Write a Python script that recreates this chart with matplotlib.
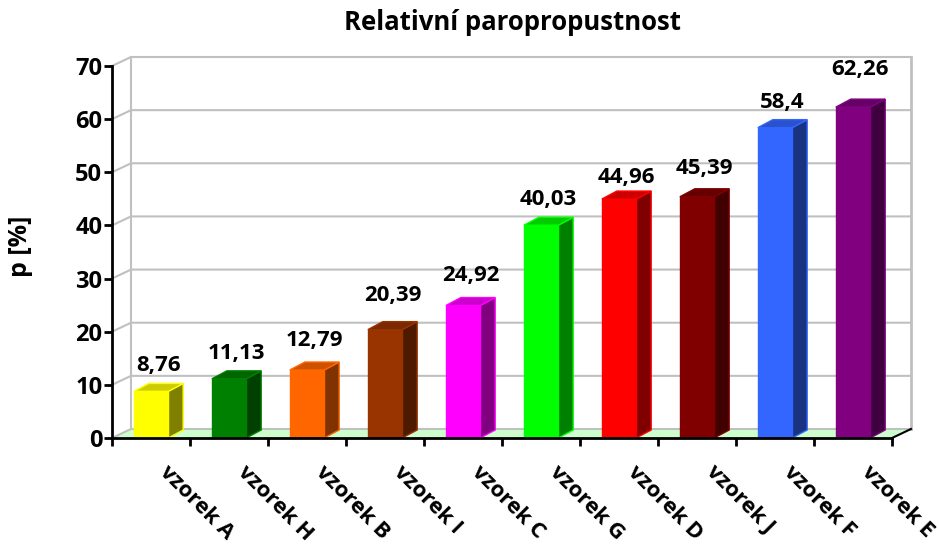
import matplotlib.pyplot as plt
from matplotlib.patches import Polygon
from matplotlib.transforms import offset_copy

plt.rcParams['font.family'] = ['Open Sans', 'DejaVu Sans']
plt.rcParams['font.weight'] = 'bold'

# vzorky seřazené podle hodnoty
vzorky = ["vzorek A", "vzorek H", "vzorek B", "vzorek I", "vzorek C",
          "vzorek G", "vzorek D", "vzorek J", "vzorek F", "vzorek E"]
hodnoty = [8.76, 11.13, 12.79, 20.39, 24.92, 40.03, 44.96, 45.39, 58.4, 62.26]
popisky = ["8,76", "11,13", "12,79", "20,39", "24,92",
           "40,03", "44,96", "45,39", "58,4", "62,26"]

barvy_predni = ["#FFFF00", "#008000", "#FF6600", "#993300", "#FF00FF",
                "#00FF00", "#FF0000", "#800000", "#3366FF", "#800080"]
barvy_bok = ["#808000", "#004000", "#803300", "#4D1A00", "#800080",
             "#008000", "#800000", "#400000", "#1A3380", "#400040"]
barvy_vrch = ["#CCCC00", "#006600", "#CC5200", "#7A2900", "#CC00CC",
              "#00CC00", "#CC0000", "#660000", "#2952CC", "#660066"]

# odstup účaří popisku od horní hrany sloupce (px)
odstup_popisku = [20, 20, 24, 29, 25, 20, 16, 23, 20, 32]

W, H = 939, 544
fig = plt.figure(figsize=(W / 100, H / 100), dpi=100)

# pixelové měřítko os: 78 px na kategorii, 5.314 px na jednotku
px_x = 78.0
px_y = 372.0 / 70
xmax, ymax = 10.35, 72.0
left, bottom = 112, 438
ax = fig.add_axes([left / W, (H - bottom) / H, xmax * px_x / W, ymax * px_y / H])
ax.set_xlim(0, xmax)
ax.set_ylim(0, ymax)

# hloubka stěn a sloupců v datových jednotkách
dx, dy = 19 / px_x, 9 / px_y
sdx, sdy = 15 / px_x, 8 / px_y
sirka = 0.44
grid_c = "#C0C0C0"

# podlaha
ax.add_patch(Polygon([(0, 0), (10, 0), (10 + dx, dy), (dx, dy)], closed=True,
                     facecolor="#CCFFCC", edgecolor="none", zorder=1))
ax.plot([10, 10 + dx], [0, dy], color="black", lw=1.5, zorder=2, clip_on=False)

# mřížka na zadní a boční stěně
for v in range(0, 71, 10):
    ax.plot([0, dx, 10 + dx], [v, v + dy, v + dy], color=grid_c, lw=1.5, zorder=1, clip_on=False)
ax.plot([dx, dx], [dy, 70 + dy], color=grid_c, lw=1.5, zorder=1)
ax.plot([10 + dx, 10 + dx], [dy, 70 + dy], color=grid_c, lw=2, zorder=1)

# 3D sloupce
for i, (v, fc, bc, tc, txt, od) in enumerate(zip(hodnoty, barvy_predni, barvy_bok, barvy_vrch,
                                                  popisky, odstup_popisku)):
    x0 = i + 0.28
    x1 = x0 + sirka
    ax.add_patch(Polygon([(x1, 0), (x1 + sdx, sdy), (x1 + sdx, v + sdy), (x1, v)], closed=True,
                         facecolor=bc, edgecolor=fc, lw=1, zorder=3))
    ax.add_patch(Polygon([(x0, v), (x1, v), (x1 + sdx, v + sdy), (x0 + sdx, v + sdy)], closed=True,
                         facecolor=tc, edgecolor=fc, lw=1, zorder=3))
    ax.add_patch(Polygon([(x0, 0), (x1, 0), (x1, v), (x0, v)], closed=True,
                         facecolor=fc, edgecolor=fc, lw=1, zorder=4))
    ax.annotate(txt, ((x0 + x1 + sdx) / 2, v), xytext=(0, od * 0.72), textcoords="offset points",
                ha="center", va="baseline", fontsize=16, fontweight="bold", zorder=5)

# osy
for s in ("top", "right"):
    ax.spines[s].set_visible(False)
ax.spines["left"].set_bounds(0, 70)
ax.spines["bottom"].set_bounds(0, 10)
ax.spines["left"].set_linewidth(2)
ax.spines["bottom"].set_linewidth(2)
ax.spines["left"].set_zorder(6)
ax.spines["bottom"].set_zorder(6)
ax.set_yticks(range(0, 71, 10))
ax.tick_params(axis="y", direction="out", length=6, width=2, labelsize=17, pad=1)
ax.set_xticks(range(0, 11))
ax.set_xticklabels([])
ax.tick_params(axis="x", which="major", direction="out", length=6, width=2)
ax.set_xticks([i + 0.5 for i in range(10)], minor=True)
ax.set_xticklabels(vzorky, minor=True, rotation=-45, ha="left", rotation_mode="anchor",
                   fontsize=16, fontweight="bold")
ax.tick_params(axis="x", which="minor", length=0, pad=17)
for lab in ax.get_xticklabels(minor=True):
    lab.set_transform(offset_copy(lab.get_transform(), fig=fig, x=14, y=0, units="points"))
for lab in ax.get_yticklabels():
    lab.set_fontweight("bold")
ax.set_ylabel("p [%]", fontsize=18, fontweight="bold", labelpad=30)

fig.text(512 / W, 1 - 22 / H, "Relativní paropropustnost", ha="center", va="center",
         fontsize=18.5, fontweight="bold")

fig.savefig("out.png", dpi=100)
